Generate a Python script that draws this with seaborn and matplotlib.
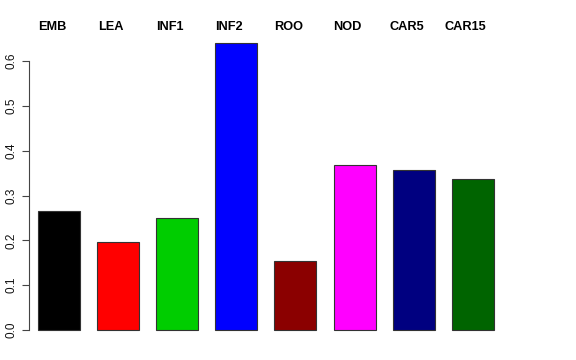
import matplotlib
matplotlib.use("Agg")
import matplotlib.pyplot as plt
import matplotlib.transforms as mtransforms
import pandas as pd
import seaborn as sns

# ---------------------------------------------------------------------------
# data
# ---------------------------------------------------------------------------
tissues = ["EMB", "LEA", "INF1", "INF2", "ROO", "NOD", "CAR5", "CAR15"]
values = [0.266, 0.197, 0.250, 0.641, 0.155, 0.368, 0.357, 0.336]
colors = ["#000000", "#FF0000", "#00CD00", "#0000FF",
          "#8B0000", "#FF00FF", "#000080", "#006400"]
yticks = [0.0, 0.1, 0.2, 0.3, 0.4, 0.5, 0.6]

df = pd.DataFrame({"tissue": tissues, "value": values})

sns.set_style("white")
plt.rcParams["font.family"] = ["Liberation Sans", "DejaVu Sans"]
plt.rcParams["text.color"] = "black"
plt.rcParams["ytick.color"] = "black"

W, H = 576, 360
fig = plt.figure(figsize=(W / 100, H / 100), dpi=100)
# plot region in pixels: left 29, right 529, top 30, bottom 340
ax = fig.add_axes([29 / W, 1 - 340 / H, 500 / W, 310 / H])

sns.barplot(data=df, x="tissue", y="value", hue="tissue", palette=colors,
            legend=False, width=0.71, edgecolor="#333333", linewidth=0.8,
            saturation=1, ax=ax)

ppu = 448.3
ax.set_ylim(-10 / ppu, 300 / ppu)
ax.set_xlim(-0.508, -0.508 + 500 / 59.1)

for s in ["top", "right", "bottom"]:
    ax.spines[s].set_visible(False)
ax.spines["left"].set_bounds(0, 0.6)
ax.spines["left"].set_color("#444444")
ax.spines["left"].set_linewidth(0.8)

ax.set_xticks([])
ax.set_xlabel("")
ax.set_ylabel("")
ax.set_yticks(yticks)
ax.set_yticklabels([f"{t:.1f}" for t in yticks], rotation=90, va="center",
                   fontsize=8.5)
ax.tick_params(axis="y", left=True, length=5, width=0.8, color="#444444",
               labelcolor="#111111", pad=3)

# tissue names across the top, sitting a little left of each bar centre
trans = mtransforms.blended_transform_factory(ax.transData, fig.transFigure)
shift = mtransforms.ScaledTranslation(-7 / 100, 0, fig.dpi_scale_trans)
for i, name in enumerate(tissues):
    ax.text(i, 1 - 27 / H, name, transform=trans + shift, ha="center",
            va="center", fontsize=9.2, fontweight="bold", color="black")

fig.savefig("out.png", dpi=100)
